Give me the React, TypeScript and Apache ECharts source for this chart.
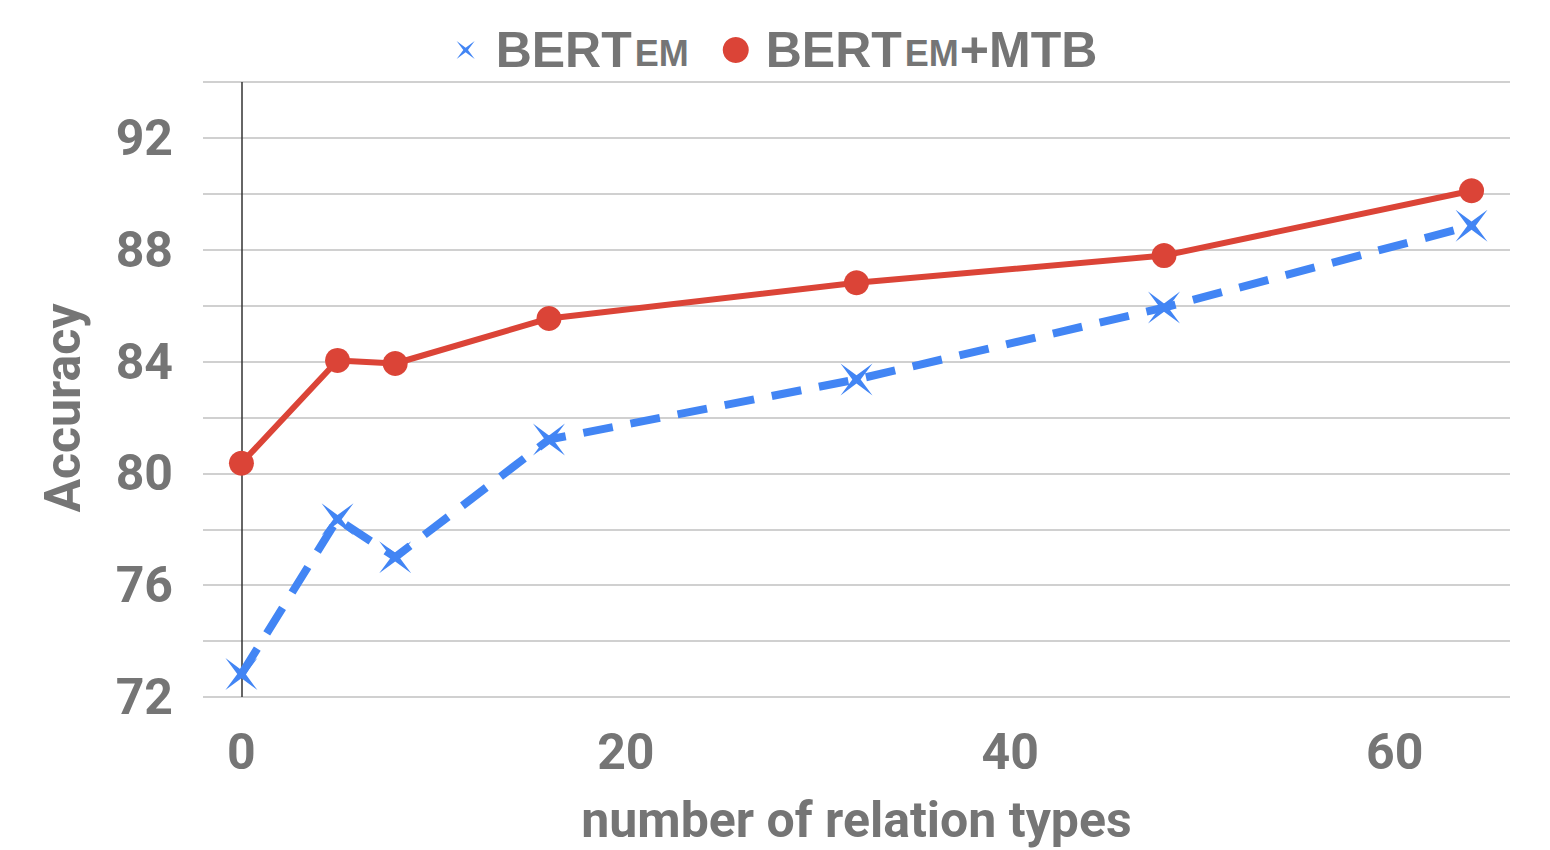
import React, { useEffect, useRef } from "react";
import * as echarts from "echarts";

const xValues = [0, 5, 8, 16, 32, 48, 64];
const bertEm = [72.82, 78.36, 77.0, 81.21, 83.36, 85.93, 88.86];
const bertEmMtb = [80.36, 84.04, 83.93, 85.54, 86.82, 87.79, 90.11];
const seriesNames = ["BERTEM", "BERTEM+MTB"];
const xTitle = "number of relation types";
const yTitle = "Accuracy";

const BLUE = "#4285F4";
const RED = "#DB4437";
const GRAY = "#757575";
const STAR = "path://M0 0 L50 37 L100 0 L63 50 L100 100 L50 63 L0 100 L37 50 Z";
const STAR_LEGEND =
  "path://M-22 -22 L-22 -21.9 M122 122 L122 121.9 M0 0 L50 37 L100 0 L63 50 L100 100 L50 63 L0 100 L37 50 Z";

export default function App() {
  const ref = useRef<HTMLDivElement>(null);
  useEffect(() => {
    if (!ref.current) return;
    const chart = echarts.init(ref.current, undefined, { renderer: "svg" });
    const font = "Roboto";
    const lfont = "Liberation Sans";
    chart.setOption({
      animation: false,
      backgroundColor: "#ffffff",
      textStyle: { fontFamily: font },
      legend: {
        top: 20,
        left: "center",
        itemGap: 33,
        itemWidth: 26,
        itemHeight: 26,
        data: [
          { name: seriesNames[0], icon: STAR_LEGEND, itemStyle: { color: BLUE } },
          { name: seriesNames[1], icon: "circle", itemStyle: { color: RED } },
        ],
        formatter: (n: string) =>
          n === seriesNames[0] ? "{a|BERT}{b|EM}" : "{a|BERT}{b|EM}{a|+MTB}",
        textStyle: {
          color: GRAY,
          fontFamily: lfont,
          fontWeight: "bold",
          padding: [0, 0, 0, 12],
          rich: {
            a: { fontSize: 50, fontWeight: "bold", color: GRAY, fontFamily: lfont, lineHeight: 60 },
            b: { fontSize: 36, fontWeight: "bold", color: GRAY, fontFamily: lfont, lineHeight: 53, padding: [7, 1, 0, 3] },
          },
        },
      },
      grid: { left: 203, right: 40, top: 82, bottom: 152, containLabel: false },
      xAxis: {
        type: "value",
        min: -2,
        max: 66,
        interval: 2,
        name: xTitle,
        nameLocation: "middle",
        nameGap: 98,
        nameTextStyle: { fontSize: 50, fontWeight: "bold", color: GRAY, fontFamily: font },
        axisLine: { show: false },
        axisTick: { show: false },
        splitLine: { show: false },
        axisLabel: {
          formatter: (v: number) => (v % 20 === 0 ? String(v) : ""),
          fontSize: 50,
          fontWeight: "bold",
          color: GRAY,
          margin: 30,
          fontFamily: font,
        },
      },
      yAxis: {
        type: "value",
        min: 72,
        max: 94,
        interval: 2,
        axisLine: { show: false },
        axisTick: { show: false },
        splitLine: { lineStyle: { color: "#d0d0d0", width: 2 } },
        axisLabel: {
          formatter: (v: number) => (v % 4 === 0 ? String(v) : ""),
          fontSize: 50,
          fontWeight: "bold",
          color: GRAY,
          margin: 30,
          fontFamily: font,
        },
      },
      graphic: [
        {
          type: "text",
          x: 63,
          y: 408,
          rotation: Math.PI / 2,
          style: {
            text: yTitle,
            fontSize: 50,
            fontWeight: "bold",
            fill: GRAY,
            fontFamily: font,
            align: "center",
            verticalAlign: "middle",
          },
        },
      ],
      series: [
        {
          name: seriesNames[0],
          type: "line",
          data: xValues.map((x, i) => [x, bertEm[i]]),
          symbol: STAR,
          symbolSize: 32,
          itemStyle: { color: BLUE },
          lineStyle: { color: BLUE, width: 8, type: [30, 18] },
          z: 3,
          markLine: {
            silent: true,
            symbol: "none",
            label: { show: false },
            lineStyle: { color: "#333333", width: 1.5, type: "solid" },
            data: [{ xAxis: 0 }],
            z: 1,
          },
        },
        {
          name: seriesNames[1],
          type: "line",
          data: xValues.map((x, i) => [x, bertEmMtb[i]]),
          symbol: "circle",
          symbolSize: 25,
          itemStyle: { color: RED },
          lineStyle: { color: RED, width: 6 },
          z: 4,
        },
      ],
    });
    return () => chart.dispose();
  }, []);
  return (
    <div
      ref={ref}
      style={{ position: "fixed", left: 0, top: 0, width: 1550, height: 850 }}
    />
  );
}
